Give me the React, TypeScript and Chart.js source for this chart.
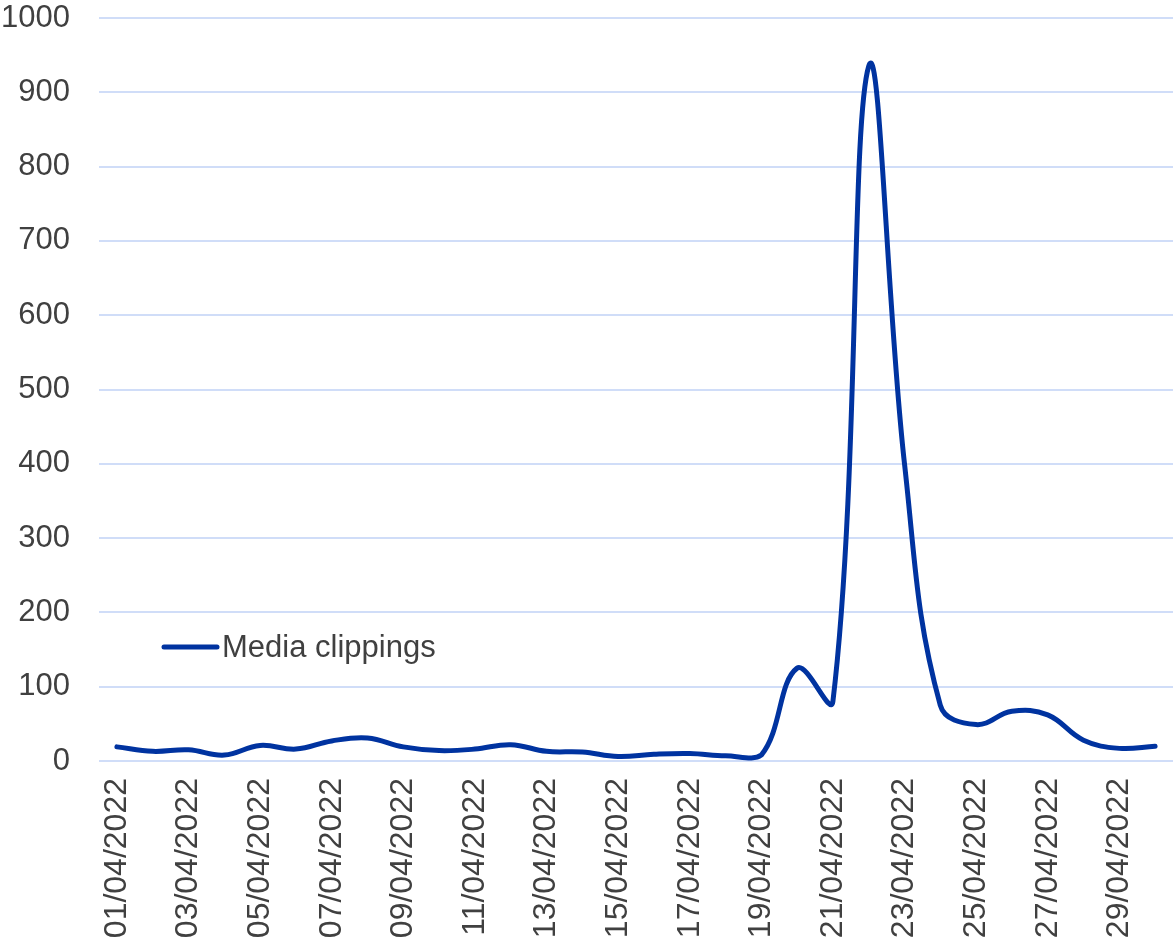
import React, { useEffect, useRef } from "react";
import { Chart, registerables } from "chart.js";

Chart.register(...registerables);

const categories: string[] = [
  "01/04/2022", "02/04/2022", "03/04/2022", "04/04/2022", "05/04/2022",
  "06/04/2022", "07/04/2022", "08/04/2022", "09/04/2022", "10/04/2022",
  "11/04/2022", "12/04/2022", "13/04/2022", "14/04/2022", "15/04/2022",
  "16/04/2022", "17/04/2022", "18/04/2022", "19/04/2022", "20/04/2022",
  "21/04/2022", "22/04/2022", "23/04/2022", "24/04/2022", "25/04/2022",
  "26/04/2022", "27/04/2022", "28/04/2022", "29/04/2022", "30/04/2022",
];

const seriesName = "Media clippings";
const mediaClippings: number[] = [
  19, 13, 15, 8, 21, 16, 27, 31, 19, 14,
  16, 22, 13, 12, 6, 9, 10, 7, 8, 125,
  80, 935, 400, 75, 49, 67, 62, 28, 17, 20,
];

const yTicks: number[] = [0, 100, 200, 300, 400, 500, 600, 700, 800, 900, 1000];

const LINE_COLOR = "#0033a0";
const GRID_COLOR = "#d0ddf8";
const TEXT_COLOR = "#404040";
const FONT_FAMILY = "'Liberation Sans', Arial, sans-serif";
const FONT_SIZE = 31;

const insideLegend = {
  id: "insideLegend",
  afterDraw(chart: any) {
    const { ctx, chartArea } = chart;
    const ds = chart.data.datasets[0];
    const x0 = chartArea.left + 65;
    const y = chartArea.top + 629;
    ctx.save();
    ctx.strokeStyle = ds.borderColor;
    ctx.lineWidth = 5;
    ctx.lineCap = "round";
    ctx.beginPath();
    ctx.moveTo(x0, y);
    ctx.lineTo(x0 + 53, y);
    ctx.stroke();
    ctx.fillStyle = TEXT_COLOR;
    ctx.font = `${FONT_SIZE}px ${FONT_FAMILY}`;
    ctx.textBaseline = "middle";
    ctx.textAlign = "left";
    ctx.fillText(ds.label, x0 + 58, y + 1);
    ctx.restore();
  },
};

export default function App() {
  const canvasRef = useRef<HTMLCanvasElement | null>(null);

  useEffect(() => {
    document.body.style.margin = "0";
    const canvas = canvasRef.current;
    if (!canvas) return;
    const chart = new Chart(canvas, {
      type: "line",
      data: {
        labels: categories,
        datasets: [
          {
            label: seriesName,
            data: mediaClippings,
            borderColor: LINE_COLOR,
            backgroundColor: LINE_COLOR,
            borderWidth: 5,
            pointRadius: 0,
            pointHoverRadius: 0,
            tension: 0.4,
            borderCapStyle: "round",
            borderJoinStyle: "round",
            fill: false,
          },
        ],
      },
      options: {
        responsive: false,
        animation: false,
        devicePixelRatio: 1,
        layout: { padding: { top: 0, right: 0, bottom: 0, left: 0 } },
        plugins: {
          legend: { display: false },
          tooltip: { enabled: false },
        },
        scales: {
          x: {
            type: "category",
            offset: true,
            grid: { display: false, drawTicks: false },
            border: { display: false },
            afterFit: (scale: any) => {
              scale.height = 182;
              scale.paddingLeft = 0;
              scale.paddingRight = 0;
              scale.paddingTop = 0;
              scale.paddingBottom = 0;
            },
            ticks: {
              autoSkip: false,
              maxRotation: 90,
              minRotation: 90,
              padding: 17,
              color: TEXT_COLOR,
              font: { family: FONT_FAMILY, size: 32 },
              callback: function (this: any, _v: any, index: number) {
                return index % 2 === 0 ? categories[index] : "";
              },
            },
          },
          y: {
            min: 0,
            max: 1000,
            afterFit: (scale: any) => {
              scale.width = 99;
              scale.paddingTop = 18;
              scale.paddingBottom = 0;
              scale.paddingLeft = 0;
              scale.paddingRight = 0;
            },
            afterBuildTicks: (scale: any) => {
              scale.ticks = yTicks.map((v) => ({ value: v }));
            },
            grid: { color: GRID_COLOR, lineWidth: 2, drawTicks: false },
            border: { display: false },
            ticks: {
              padding: 29,
              color: TEXT_COLOR,
              font: { family: FONT_FAMILY, size: FONT_SIZE },
              callback: (v: any) => String(v),
            },
          },
        },
      },
      plugins: [insideLegend],
    });
    return () => chart.destroy();
  }, []);

  return (
    <div style={{ width: 1173, height: 943 }}>
      <canvas ref={canvasRef} width={1173} height={943} style={{ display: "block" }} />
    </div>
  );
}
